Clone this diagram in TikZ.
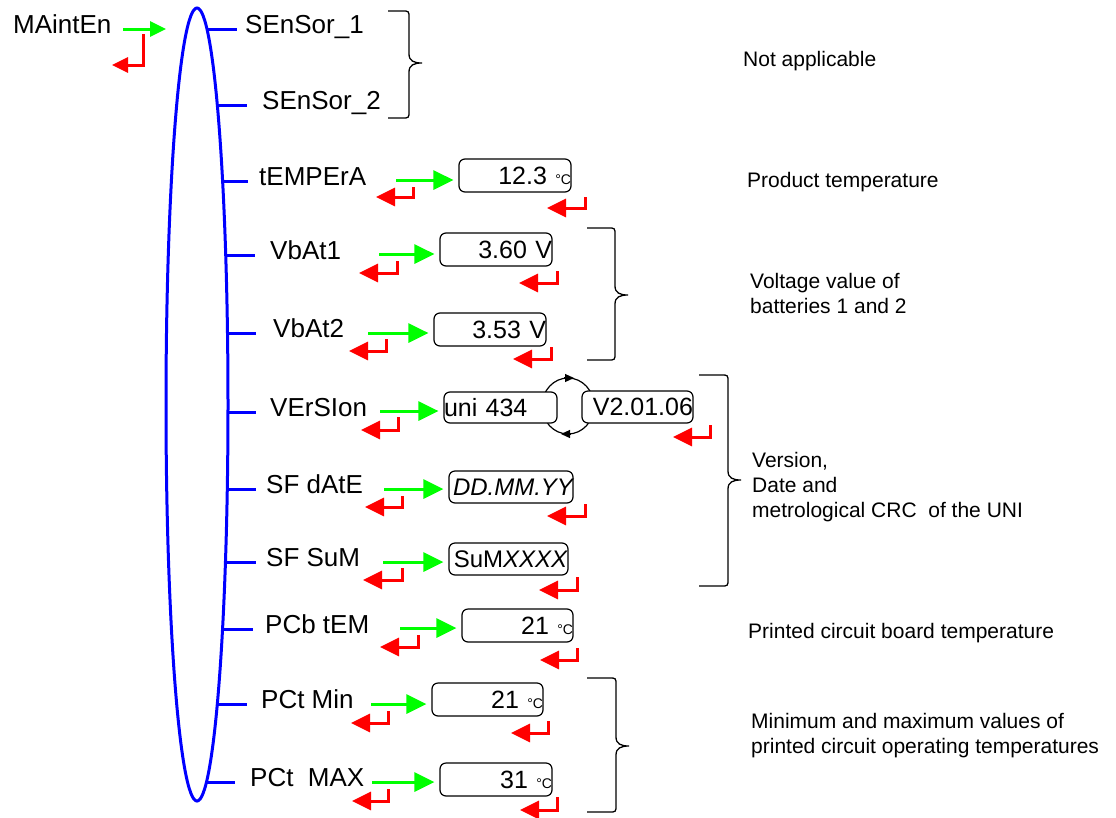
\documentclass[tikz,border=0pt]{standalone}
\usepackage{fontspec}
\setmainfont{Liberation Sans}
\usetikzlibrary{arrows.meta, positioning, calc}
\definecolor{menuBlue}{RGB}{0,0,255}
\definecolor{keyGreen}{RGB}{0,255,0}
\definecolor{keyRed}{RGB}{255,0,0}
\newcommand{\labelfont}{\fontsize{26}{30}\selectfont}
\newcommand{\valfont}{\fontsize{25}{29}\selectfont}
\newcommand{\notefont}{\fontsize{21}{25}\selectfont}
\newcommand{\degC}{{\fontsize{14}{14}\selectfont °C}}
% arm x, spine x, top y, tip y, bottom y
\newcommand{\menubrace}[5]{%
  \draw[curly] (#1,#3) -- ({#2-7},#3) .. controls (#2,#3) .. (#2,{#3+7})
    -- (#2,{#4-9}) .. controls (#2,{#4-2}) and ({#2+5},#4) .. ({#2+13},#4)
    .. controls ({#2+5},#4) and (#2,{#4+2}) .. (#2,{#4+9})
    -- (#2,{#5-7}) .. controls (#2,#5) .. ({#2-7},#5) -- (#1,#5);}

\begin{document}
\begin{tikzpicture}[x=1pt, y=-1pt,
    item/.style={anchor=base west, inner sep=0pt, font=\labelfont},
    valbox/.style={draw, line width=1.2pt, rounded corners=6pt, fill=white,
      inner sep=0pt, minimum height=33pt, font=\valfont, align=right},
    note/.style={anchor=base west, inner sep=0pt, font=\notefont, align=left},
    branch/.style={menuBlue, line width=3pt},
    enter/.style={keyGreen, line width=3pt, -{Triangle[length=20pt,width=19pt]}},
    escape/.style={keyRed, line width=3pt, -{Triangle[length=19pt,width=18pt]}},
    curly/.style={line width=1.3pt}]
  \useasboundingbox (0,0) rectangle (1116,817);

  % Entry into the menu
  \node[item] (main) at (13,33) {MAintEn};
  \coordinate (m-out) at (123,29);
  \coordinate (m-in) at (166,29);
  \draw[enter, -{Triangle[length=16pt,width=15pt]}] (m-out) -- (m-in);
  \draw[escape, -{Triangle[length=16pt,width=15pt]}] (143,34) |- (112,65);

  % Menu loop
  \draw[branch] (197,404.5) ellipse [x radius=31, y radius=396.5];
  \foreach \n/\y/\tx/\gap/\txt in {s1/29/245/8/SEnSor\_1, s2/105/262/15/SEnSor\_2,
      temp/181/259/11/tEMPErA, vb1/255/270/15/VbAt1, vb2/333/273/17/VbAt2,
      ver/412/270/14/VErSIon, date/489/266/10/SF dAtE, sum/562/266/10/SF SuM,
      pcb/629/265/12/PCb tEM, min/704/261/14/PCt Min, max/782/250/15/PCt\ \ MAX}
  {
    \pgfmathsetmacro{\bx}{197+31*sqrt(1-((\y-404.5)/396.5)^2)}
    \node[item] (l-\n) at (\tx,{\y+4}) {\txt};
    \coordinate (b-\n) at (\bx,\y);
    \draw[branch, shorten >=\gap pt] (b-\n) -- (b-\n -| l-\n.west);
  }

  % Version toggle
  \draw[line width=1.2pt] (568,406) ellipse [x radius=26, y radius=28];
  \draw[line width=1.2pt, -{Triangle[length=9pt,width=8pt]}] (564,378) -- (574,378);
  \draw[line width=1.2pt, -{Triangle[length=9pt,width=8pt]}] (570,434) -- (561,434);

  % Displayed values
  \node[valbox, text width=112pt] (v-temp) at (515,175.5) {12.3 \degC};
  \node[valbox, text width=112pt] (v-vb1) at (496,249.5) {3.60 V};
  \node[valbox, text width=112pt] (v-vb2) at (490,329.5) {3.53 V};
  \node[valbox, text width=113pt, align=left, minimum height=31pt] (v-ver) at (500.5,407.5) {uni 434};
  \node[valbox, text width=111pt, minimum height=32pt] (v-ver2) at (637.5,407) {V2.01.06};
  \node[valbox, text width=124pt, minimum height=32pt] (v-date) at (511,487)
    {\fontsize{24}{28}\selectfont\itshape DD.MM.YY};
  \node[valbox, text width=119pt, minimum height=32pt] (v-sum) at (508.5,559)
    {\fontsize{24}{28}\selectfont SuM\textit{XXXX}};
  \node[valbox, text width=111pt] (v-pcb) at (517.5,625.5) {21 \degC};
  \node[valbox, text width=111pt] (v-min) at (487.5,699.5) {21 \degC};
  \node[valbox, text width=112pt] (v-max) at (496,779.5) {31 \degC};

  % Enter keys
  \foreach \n/\xs/\y in {temp/396/180, vb1/379/254, vb2/368/333, ver/380/411,
      date/384/489, sum/383/562, pcb/400/628, min/371/704, max/372/782}
  {
    \coordinate (g-\n) at (\xs,\y);
    \draw[enter, shorten >=5pt] (g-\n) -- (g-\n -| v-\n.west);
  }

  % Escape keys
  \foreach \xv/\yt/\yb/\xt in {413/187/197/376, 585/197/208/547,
      397/261/273/359, 557/271/283/519, 386/339/351/349, 551/347/359/513,
      398/417/430/361, 710/425/437/673, 402/496/507/365, 585/504/516/547,
      402/568/580/363, 577/577/590/539, 418/635/647/380, 577/648/660/540,
      388/711/723/351, 548/721/733/511, 388/789/801/352, 557/797/810/520}
    \draw[escape] (\xv,\yt) |- (\xt,\yb);

  % Groups and notes
  \menubrace{388}{409}{11}{63}{118}
  \menubrace{587}{615}{228}{295}{360}
  \menubrace{699}{728}{375}{480}{586}
  \menubrace{587}{616}{678}{746}{812}
  \node[note] (n-na) at (743,66) {Not applicable};
  \node[note] (n-prod) at (747,187) {Product temperature};
  \node[note] (n-volt) at (750,313) {Voltage value of\\batteries 1 and 2};
  \node[note] (n-vers) at (752,517) {Version,\\Date and\\metrological CRC\ \ of the UNI};
  \node[note] (n-pcb) at (748,638) {Printed circuit board temperature};
  \node[note] (n-minmax) at (751,753) {Minimum and maximum values of\\printed circuit operating temperatures};
\end{tikzpicture}
\end{document}
